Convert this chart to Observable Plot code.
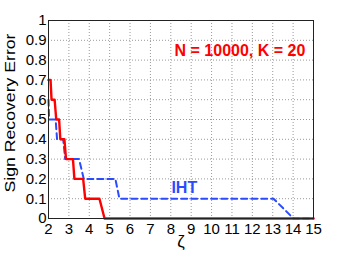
<!DOCTYPE html>
<html><head><meta charset="utf-8">
<script src="https://cdn.jsdelivr.net/npm/d3@7"></script>
<script src="https://cdn.jsdelivr.net/npm/@observablehq/plot@0.6"></script>
<style>body{margin:0;background:#fff} svg{display:block}</style>
</head><body><div id="chart"></div>
<script>
const xTicks = [2,3,4,5,6,7,8,9,10,11,12,13,14,15];
const yTicks = [0,0.1,0.2,0.3,0.4,0.5,0.6,0.7,0.8,0.9,1];
const yTickLabels = ["0","0.1","0.2","0.3","0.4","0.5","0.6","0.7","0.8","0.9","1"];

// red solid series
const redZeta = [2, 2.1, 2.15, 2.3, 2.38, 2.52, 2.58, 2.78, 2.86, 3.2, 3.27, 3.7, 3.8, 4.5, 4.75, 15];
const redErr  = [0.7, 0.7, 0.6, 0.6, 0.5, 0.5, 0.4, 0.4, 0.3, 0.3, 0.2, 0.2, 0.1, 0.1, 0, 0];

// IHT blue dashed series
const ihtZeta = [2, 2.03, 2.35, 2.42, 2.72, 2.82, 3.5, 3.73, 5.28, 5.48, 13.04, 14.02, 15];
const ihtErr  = [0.6, 0.5, 0.5, 0.4, 0.4, 0.3, 0.3, 0.2, 0.2, 0.1, 0.1, 0, 0];

const titleText = "N = 10000, K = 20";
const ihtLabel = "IHT";
const xLabel = "ζ";
const yLabel = "Sign Recovery Error";

const red = redZeta.map((x, i) => ({x, y: redErr[i]}));
const iht = ihtZeta.map((x, i) => ({x, y: ihtErr[i]}));

const chart = Plot.plot({
  width: 346, height: 257,
  marginLeft: 48, marginRight: 33, marginTop: 20, marginBottom: 39,
  style: {fontFamily: "'Liberation Sans', Arial, sans-serif", fontSize: "15px", background: "white", color: "black"},
  x: {domain: [2, 15], ticks: xTicks, tickSize: 0, tickPadding: 5, label: null, tickFormat: d => String(d)},
  y: {domain: [0, 1], ticks: yTicks, tickSize: 0, tickPadding: 2, label: null,
      tickFormat: d => yTickLabels[yTicks.indexOf(d)]},
  marks: [
    Plot.gridX(xTicks.slice(1, -1), {stroke: "#999", strokeOpacity: 1, strokeDasharray: "1,2"}),
    Plot.gridY(yTicks.slice(1, -1), {stroke: "#999", strokeOpacity: 1, strokeDasharray: "1,2"}),
    Plot.line(iht, {x: "x", y: "y", stroke: "#2b4bff", strokeWidth: 2, strokeDasharray: "6,4"}),
    Plot.line(red, {x: "x", y: "y", stroke: "#ff0000", strokeWidth: 2.4}),
    Plot.frame({stroke: "#222"}),
    Plot.text([{x: 14.6, y: 0.846, t: titleText}], {x: "x", y: "y", text: "t", textAnchor: "end", fill: "#ff0000", fontWeight: "bold", fontSize: 16}),
    Plot.text([{x: 8.03, y: 0.156, t: ihtLabel}], {x: "x", y: "y", text: "t", textAnchor: "start", fill: "#2b4bff", fontWeight: "bold", fontSize: 16}),
    Plot.text([xLabel], {text: d => d, frameAnchor: "bottom", dy: 28, fontSize: 17}),
    Plot.text([yLabel], {text: d => d, frameAnchor: "left", rotate: -90, dx: -38, dy: -6.5, fontSize: 14})
  ]
});
document.getElementById("chart").appendChild(chart);
d3.select(chart).selectAll("text").filter(function() { return this.textContent === yLabel; })
  .attr("text-anchor", "start").attr("x", -79.5)
  .attr("textLength", 159).attr("lengthAdjust", "spacingAndGlyphs");
</script>
</body></html>
